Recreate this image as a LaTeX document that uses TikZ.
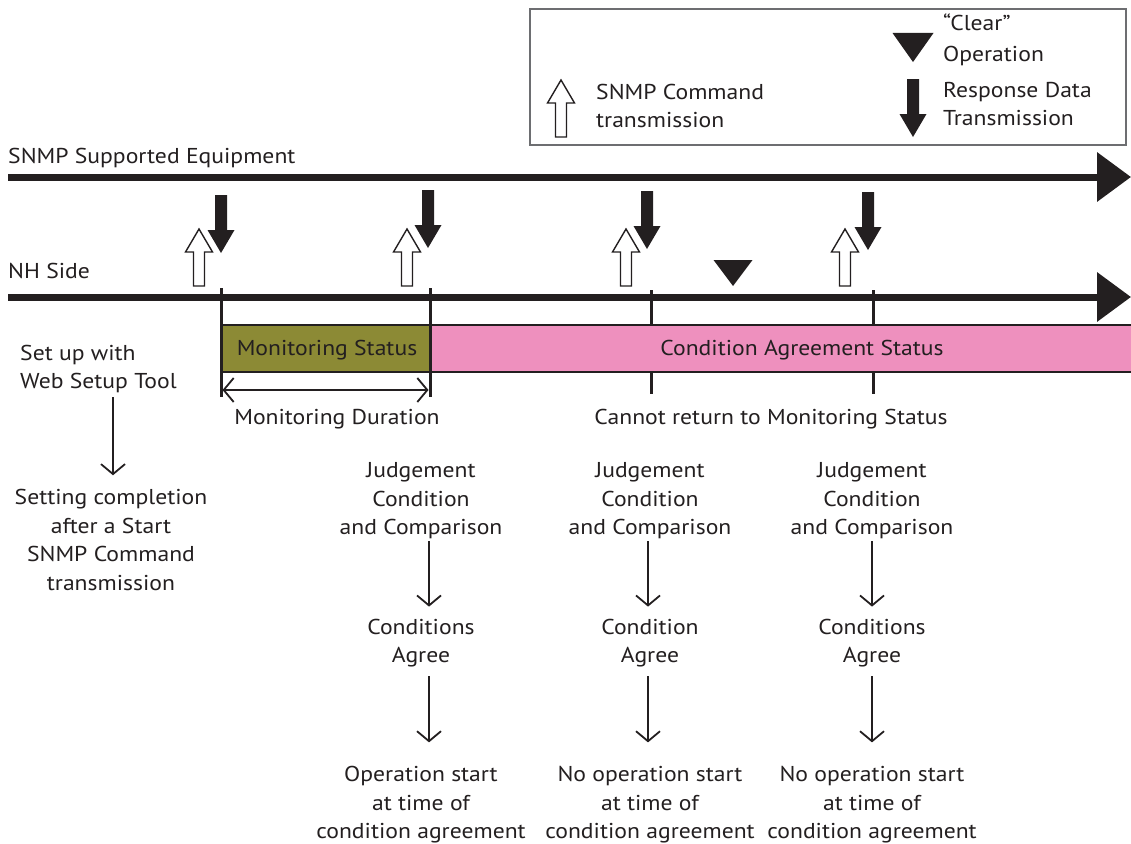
\documentclass[tikz,border=0pt]{standalone}
\usepackage{fontspec}
\setmainfont{PT Sans}[FakeStretch=1.1]
\usetikzlibrary{arrows.meta}
\definecolor{ink}{HTML}{231F20}
\definecolor{olivebar}{HTML}{8C8A35}
\definecolor{pinkbar}{HTML}{EE90BE}
\definecolor{framegray}{HTML}{6D6E71}
\tikzset{
  cmdarrow/.pic={\draw[ink, line width=1.4pt, fill=white, line join=miter]
     (0,0) -- (13.5,23) -- (5.5,23) -- (5.5,57) -- (-5.5,57) -- (-5.5,23) -- (-13.5,23) -- cycle;},
  resparrow/.pic={\fill[ink] (-6,0) -- (6,0) -- (6,35) -- (13.5,35) -- (0,58) -- (-13.5,35) -- (-6,35) -- cycle;},
}
\begin{document}
\begin{tikzpicture}[x=1pt,y=-1pt,
  txt/.style={inner sep=0pt, font=\fontsize{21.5}{28.5}\selectfont, text=ink, align=center},
  timeline/.style={line width=7pt, draw=ink, -{Triangle[length=34pt,width=48pt]}},
  flow/.style={line width=1.8pt, draw=ink, -{Straight Barb[length=10pt,width=24pt,line width=1.8pt]}},
  dim/.style={line width=1.8pt, draw=ink, {Straight Barb[length=10pt,width=24pt,line width=1.8pt]}-{Straight Barb[length=10pt,width=24pt,line width=1.8pt]}},
  tick/.style={line width=3pt, draw=ink},
  barline/.style={line width=2pt, draw=ink},
]
\useasboundingbox (0,0) rectangle (1131,843);
\begin{scope}
\clip (0,0) rectangle (1131,843);

% legend
\draw[framegray, line width=1.3pt] (530,9) rectangle (1126,145);
\pic at (561,80) {cmdarrow};
\node[txt, anchor=west, align=left] (lgcmd) at (596,106) {SNMP Command\\transmission};
\fill[ink] (892.5,33) -- (933.5,33) -- (913,62) -- cycle;
\node[txt, anchor=west, align=left] (lgclear) at (943,40) {“Clear”\\[2pt]Operation};
\pic at (913,79) {resparrow};
\node[txt, anchor=west, align=left] (lgresp) at (943,104) {Response Data\\Transmission};

% timelines
\node[txt, anchor=base west] (eqlabel) at (8,163) {SNMP Supported Equipment};
\coordinate (eqS) at (8,177);
\coordinate (eqE) at (1131,177);
\draw[timeline] (eqS) -- (eqE);
\node[txt, anchor=base west] (nhlabel) at (8,278) {NH Side};
\coordinate (nhS) at (8,297);
\coordinate (nhE) at (1131,297);
\draw[timeline] (nhS) -- (nhE);

% command / response arrows
\pic at (199,229) {cmdarrow};
\pic at (407,229) {cmdarrow};
\pic at (626,229) {cmdarrow};
\pic at (845,229) {cmdarrow};
\pic at (221,195) {resparrow};
\pic at (428,190) {resparrow};
\pic at (647,191) {resparrow};
\pic at (868,192) {resparrow};
% clear operation
\fill[ink] (713.5,260) -- (752.5,260) -- (733,286) -- cycle;

% ticks behind bar
\draw[tick] (651,290) -- (651,394);
\draw[tick] (873,290) -- (873,394);

% status bars
\fill[pinkbar] (430,325) rectangle (1140,372);
\draw[barline] (430,325) -- (1140,325);
\draw[barline] (430,372) -- (1140,372);
\node[txt] (cas) at (802,350) {Condition Agreement Status};
\draw[barline, fill=olivebar] (221,325) rectangle (430,372);
\node[txt] (ms) at (327,350) {Monitoring Status};

% ticks of monitoring duration
\coordinate (t1top) at (221,288);
\coordinate (t1bot) at (221,397);
\coordinate (t2top) at (430,288);
\coordinate (t2bot) at (430,397);
\draw[tick] (t1top) -- (t1bot);
\draw[tick] (t2top) -- (t2bot);
\coordinate (d1) at (222.5,390);
\coordinate (d2) at (428.5,390);
\draw[dim] (d1) -- (d2);

\node[txt] (md) at (337,419) {Monitoring Duration};
\node[txt] (cr) at (771,419) {Cannot return to Monitoring Status};

% left column
\node[txt, anchor=west, align=left] (setup) at (20,369) {Set up with\\Web Setup Tool};
\node[txt] (setdone) at (111,540) {Setting completion\\after a Start\\SNMP Command\\transmission};
\draw[flow] ([xshift=93pt,yshift=-4pt]setup.south west) -- ([xshift=2pt,yshift=14pt]setdone.north);

% column 1
\node[txt] (j1) at (421,501) {Judgement\\Condition\\and Comparison};
\node[txt] (c1) at (421,643) {Conditions\\Agree};
\node[txt] (o1) at (421,805) {Operation start\\at time of\\condition agreement};
\draw[flow, shorten <=2pt, shorten >=12pt] ([xshift=8pt]j1.south) -- ([xshift=8pt]c1.north);
\draw[flow, shorten <=9pt, shorten >=24pt] ([xshift=8pt]c1.south) -- ([xshift=8pt]o1.north);

% column 2
\node[txt] (j2) at (650,501) {Judgement\\Condition\\and Comparison};
\node[txt] (c2) at (650,643) {Condition\\Agree};
\node[txt] (o2) at (650,805) {No operation start\\at time of\\condition agreement};
\draw[flow, shorten <=2pt, shorten >=12pt] ([xshift=-2pt]j2.south) -- ([xshift=-2pt]c2.north);
\draw[flow, shorten <=9pt, shorten >=24pt] ([xshift=-2pt]c2.south) -- ([xshift=-2pt]o2.north);

% column 3
\node[txt] (j3) at (872,501) {Judgement\\Condition\\and Comparison};
\node[txt] (c3) at (872,643) {Conditions\\Agree};
\node[txt] (o3) at (872,805) {No operation start\\at time of\\condition agreement};
\draw[flow, shorten <=2pt, shorten >=12pt] (j3.south) -- (c3.north);
\draw[flow, shorten <=9pt, shorten >=24pt] (c3.south) -- (o3.north);
\end{scope}
\end{tikzpicture}
\end{document}
